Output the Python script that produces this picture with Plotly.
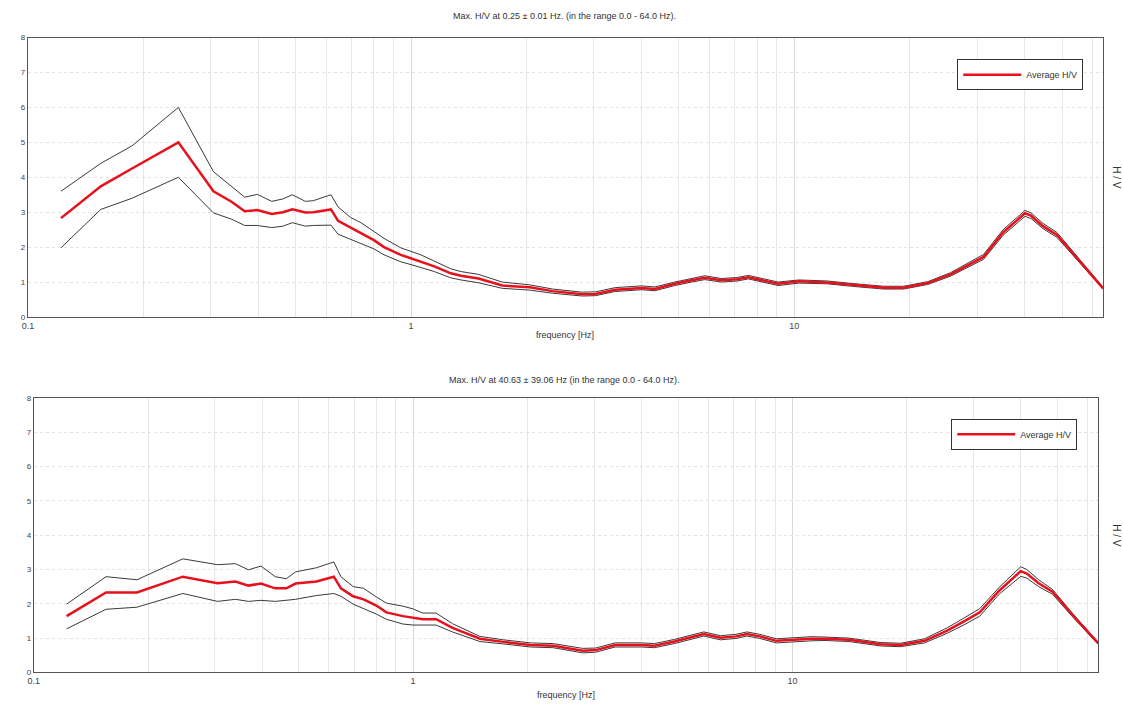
import plotly.graph_objects as go

W, H = 1123, 709

freq = [0.122, 0.155, 0.187, 0.247, 0.305, 0.34, 0.368, 0.397, 0.433, 0.463, 0.49, 0.53, 0.556, 0.618, 0.645,
        0.695, 0.74, 0.8, 0.85, 0.94, 1.0, 1.06, 1.15, 1.27, 1.35, 1.5,
        1.73, 2.04, 2.34, 2.8, 3.03,
        3.41, 4.0, 4.33, 4.88, 5.4, 5.84, 6.46, 7.1, 7.59, 8.2, 9.08, 10.3, 11.2, 12.2, 14.1, 17.1, 19.3, 22.3,
        25.6, 28.5, 31.2, 35.1, 40.0, 41.5, 44.6, 48.5, 55, 64]

avg_top = [2.83, 3.74, 4.25, 5.0, 3.6, 3.3, 3.03, 3.06, 2.95, 3.0, 3.08, 2.99, 3.0, 3.08, 2.75, 2.55, 2.4, 2.2, 2.0,
           1.78, 1.68, 1.6, 1.45, 1.25, 1.18, 1.1,
           0.9, 0.85, 0.74, 0.65, 0.66,
           0.78, 0.83, 0.8, 0.95, 1.05, 1.12, 1.05, 1.08, 1.14, 1.05, 0.95, 1.02, 1.0, 0.99, 0.92, 0.84, 0.84, 0.97,
           1.22, 1.5, 1.72, 2.42, 2.97, 2.9, 2.6, 2.35, 1.65, 0.82]
upper_top = [3.6, 4.4, 4.9, 6.0, 4.16, 3.75, 3.43, 3.51, 3.31, 3.38, 3.5, 3.31, 3.33, 3.5, 3.15, 2.85, 2.7, 2.45, 2.25,
             1.98, 1.88, 1.78, 1.6, 1.38, 1.3, 1.22,
             1.0, 0.92, 0.8, 0.71, 0.72,
             0.84, 0.89, 0.86, 1.0, 1.1, 1.18, 1.1, 1.13, 1.19, 1.1, 1.0, 1.06, 1.04, 1.03, 0.96, 0.88, 0.88, 1.01,
             1.27, 1.56, 1.79, 2.5, 3.05, 2.98, 2.68, 2.42, 1.7, 0.85]
lower_top = [1.98, 3.08, 3.4, 4.0, 2.98, 2.8, 2.62, 2.62, 2.56, 2.6, 2.7, 2.6, 2.62, 2.63, 2.37, 2.22, 2.1, 1.95, 1.78,
             1.58, 1.5, 1.42, 1.3, 1.12, 1.06, 0.98,
             0.82, 0.77, 0.68, 0.6, 0.61,
             0.73, 0.78, 0.75, 0.9, 1.0, 1.07, 1.0, 1.03, 1.09, 1.0, 0.9, 0.97, 0.96, 0.95, 0.88, 0.8, 0.8, 0.93,
             1.17, 1.44, 1.65, 2.34, 2.88, 2.82, 2.53, 2.28, 1.6, 0.8]

avg_bot = [1.64, 2.33, 2.33, 2.79, 2.6, 2.65, 2.53, 2.59, 2.45, 2.45, 2.59, 2.62, 2.65, 2.79, 2.45, 2.22, 2.13, 1.95, 1.75,
           1.64, 1.6, 1.55, 1.55, 1.3, 1.18, 0.98,
           0.89, 0.8, 0.78, 0.63, 0.65,
           0.8, 0.8, 0.78, 0.9, 1.02, 1.12, 1.01, 1.05, 1.12, 1.05, 0.92, 0.96, 0.98, 0.98, 0.95, 0.82, 0.8, 0.92,
           1.22, 1.5, 1.75, 2.38, 2.95, 2.88, 2.6, 2.35, 1.65, 0.85]
upper_bot = [1.99, 2.79, 2.7, 3.31, 3.14, 3.17, 2.99, 3.1, 2.79, 2.73, 2.93, 3.0, 3.05, 3.22, 2.79, 2.5, 2.45, 2.2, 2.02,
             1.93, 1.85, 1.73, 1.73, 1.42, 1.28, 1.05,
             0.95, 0.86, 0.84, 0.7, 0.71,
             0.86, 0.86, 0.84, 0.96, 1.08, 1.18, 1.07, 1.11, 1.18, 1.11, 0.98, 1.02, 1.04, 1.03, 1.0, 0.87, 0.85, 0.98,
             1.3, 1.6, 1.86, 2.48, 3.08, 3.0, 2.7, 2.42, 1.7, 0.88]
lower_bot = [1.27, 1.84, 1.9, 2.3, 2.07, 2.13, 2.07, 2.1, 2.07, 2.1, 2.13, 2.2, 2.24, 2.3, 2.22, 1.99, 1.87, 1.7, 1.55,
             1.41, 1.38, 1.38, 1.38, 1.18, 1.08, 0.9,
             0.83, 0.74, 0.72, 0.57, 0.59,
             0.74, 0.74, 0.72, 0.84, 0.96, 1.06, 0.95, 0.99, 1.06, 0.99, 0.86, 0.9, 0.92, 0.93, 0.9, 0.77, 0.75, 0.86,
             1.14, 1.4, 1.64, 2.28, 2.8, 2.75, 2.5, 2.28, 1.6, 0.82]

x_ticks = [0.1, 1, 10]
x_tick_text = ["0.1", "1", "10"]
y_ticks = [0, 1, 2, 3, 4, 5, 6, 7, 8]
minor_vals = [m * d for d in (0.1, 1, 10) for m in range(2, 10) if m * d <= 64]

titles = ["Max. H/V at 0.25 ± 0.01 Hz. (in the range 0.0 - 64.0 Hz).",
          "Max. H/V at 40.63 ± 39.06 Hz (in the range 0.0 - 64.0 Hz)."]

FONT = "Liberation Sans, Arial, sans-serif"
RED = "#e8101c"
STD = "#3a3a3a"

fig = go.Figure()

# pixel boxes: (left, right, top, bottom)
boxes = [(22, 1103, 34, 317), (28, 1098, 399, 677)]
title_y = [12, 381]
xlab_y = [335, 700]
legend_right = [1083, 1077]
legend_top = [56, 420]
series = [(avg_top, upper_top, lower_top), (avg_bot, upper_bot, lower_bot)]

layout_kw = {}
annotations = []
for i, ((l, r, t, b), (av, up, lo)) in enumerate(zip(boxes, series)):
    n = "" if i == 0 else str(i + 1)
    xa, ya = "x" + n, "y" + n
    leg = "legend" if i == 0 else "legend2"
    fig.add_trace(go.Scatter(x=freq, y=up, mode="lines", line=dict(color=STD, width=1),
                             xaxis=xa, yaxis=ya, showlegend=False, hoverinfo="skip"))
    fig.add_trace(go.Scatter(x=freq, y=lo, mode="lines", line=dict(color=STD, width=1),
                             xaxis=xa, yaxis=ya, showlegend=False, hoverinfo="skip"))
    fig.add_trace(go.Scatter(x=freq, y=av, mode="lines", line=dict(color=RED, width=2.5),
                             xaxis=xa, yaxis=ya, name="Average H/V", legend=leg, showlegend=True))
    xd = [l / W, r / W]
    yd = [1 - b / H, 1 - t / H]
    layout_kw["xaxis" + n] = dict(
        type="log", range=[-1, 1.80618], domain=xd, anchor=ya,
        tickvals=x_ticks, ticktext=x_tick_text, ticks="", showgrid=True,
        gridcolor="#d9d9d9", gridwidth=1,
        minor=dict(tickvals=minor_vals, showgrid=True, gridcolor="#e6e6e6", gridwidth=1, ticks=""),
        showline=True, linecolor="#555555", linewidth=1, mirror=True, zeroline=False,
        tickfont=dict(family=FONT, size=9, color="#444444"),
    )
    layout_kw["yaxis" + n] = dict(
        range=[0, 8], domain=yd, anchor=xa, tickvals=y_ticks, ticks="",
        showgrid=True, gridcolor="#e3e3e3", gridwidth=1, griddash="dot",
        showline=True, linecolor="#555555", linewidth=1, mirror=True, zeroline=False,
        tickfont=dict(family=FONT, size=8, color="#444444"),
    )
    cx = (l + r) / 2 / W
    annotations.append(dict(text=titles[i], x=0.5, y=1 - title_y[i] / H, xref="paper", yref="paper",
                            xanchor="center", yanchor="middle",
                            showarrow=False, font=dict(family=FONT, size=9, color="#333333")))
    annotations.append(dict(text="frequency [Hz]", x=cx, y=1 - xlab_y[i] / H, xref="paper", yref="paper",
                            xanchor="center", yanchor="middle",
                            showarrow=False, font=dict(family=FONT, size=9, color="#333333")))
    annotations.append(dict(text="H / V", x=1117 / W, y=1 - ((t + b) / 2) / H, xref="paper", yref="paper",
                            xanchor="center", yanchor="middle",
                            textangle=90, showarrow=False, font=dict(family=FONT, size=10, color="#333333")))
    layout_kw[leg] = dict(x=legend_right[i] / W, y=1 - legend_top[i] / H, xanchor="right", yanchor="top",
                          bgcolor="white", bordercolor="#333333", borderwidth=1,
                          font=dict(family=FONT, size=9, color="#333333"),
                          itemwidth=58, tracegroupgap=0)

fig.update_layout(
    width=W, height=H, margin=dict(l=0, r=0, t=0, b=0),
    paper_bgcolor="white", plot_bgcolor="white",
    annotations=annotations, showlegend=True,
    **layout_kw,
)

fig.write_html("out.html")
